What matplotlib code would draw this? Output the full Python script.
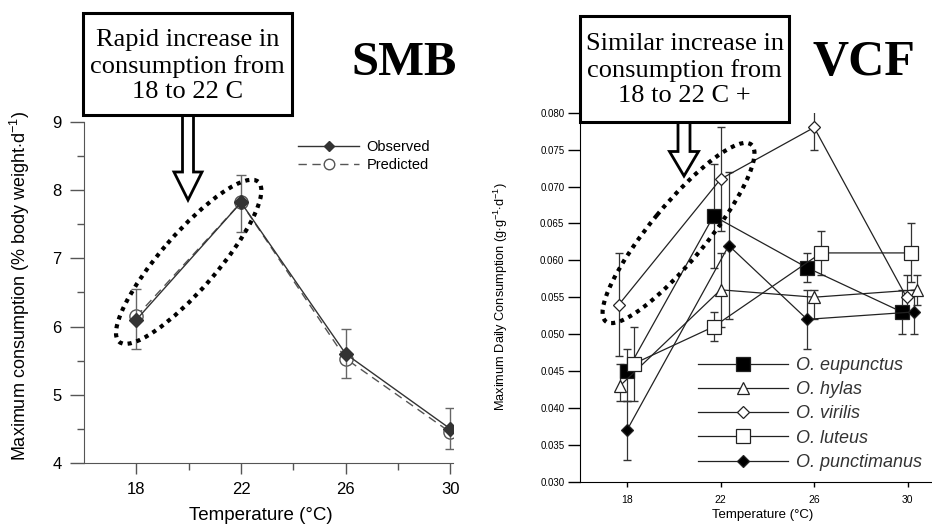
#Consumption vs temperature: smallmouth bass (SMB) and crayfish (VCF)
#two panels with call-out boxes, block arrows and dotted ellipses

import matplotlib.pyplot as plt
import numpy as np
from matplotlib.patches import Ellipse, Rectangle, FancyArrow

plt.rcParams['font.family'] = ['Liberation Sans', 'DejaVu Sans']
plt.rcParams['mathtext.fontset'] = 'custom'
plt.rcParams['mathtext.rm'] = 'Liberation Sans'
plt.rcParams['mathtext.it'] = 'Liberation Sans:italic'

#SMB panel, % body weight per day
smb_temp = [18, 22, 26, 30]
smb_obs = [6.10, 7.82, 5.60, 4.50]
smb_pred = [6.15, 7.82, 5.53, 4.45]
smb_lo = [5.67, 7.39, 5.25, 4.21]
smb_hi = [6.55, 8.22, 5.97, 4.80]

#VCF panel, g g-1 d-1
vcf_temp = [18, 22, 26, 30]
species = ['O. eupunctus', 'O. hylas', 'O. virilis', 'O. luteus', 'O. punctimanus']
eup_y = [0.045, 0.066, 0.059, 0.053]
eup_lo = [0.041, 0.059, 0.057, 0.050]
eup_hi = [0.048, 0.073, 0.061, 0.056]
hyl_y = [0.043, 0.056, 0.055, 0.056]
hyl_lo = [0.041, 0.051, 0.052, 0.054]
hyl_hi = [0.046, 0.061, 0.056, 0.058]
vir_y = [0.054, 0.071, 0.078, 0.055]
vir_lo = [0.047, 0.064, 0.075, 0.053]
vir_hi = [0.061, 0.078, 0.081, 0.058]
lut_y = [0.046, 0.051, 0.061, 0.061]
lut_lo = [0.041, 0.049, 0.058, 0.057]
lut_hi = [0.051, 0.053, 0.064, 0.065]
pun_y = [0.037, 0.062, 0.052, 0.053]
pun_lo = [0.033, 0.052, 0.048, 0.050]
pun_hi = [0.041, 0.072, 0.056, 0.056]
#horizontal dodge so the error bars do not overlap
eup_off = [0.0, -0.3, -0.3, -0.25]
hyl_off = [-0.3, 0.0, 0.0, 0.4]
vir_off = [-0.35, 0.0, 0.0, -0.05]
lut_off = [0.3, -0.3, 0.3, 0.15]
pun_off = [0.0, 0.35, -0.3, 0.25]

W, H = 932, 525
fig = plt.figure(figsize=(W/100, H/100), dpi=100)

#---- left panel ----
ax1 = fig.add_axes([84/W, 1-463/H, (453-84)/W, (463-122)/H])
obs = np.array(smb_obs)
ax1.plot(smb_temp, smb_pred, ls=(0, (6, 4)), color='#555555', lw=1, marker='o', ms=9.5,
         mfc='white', mec='#555555', mew=1, zorder=2, label='Predicted')
ax1.errorbar(smb_temp, obs, yerr=[obs-np.array(smb_lo), np.array(smb_hi)-obs], fmt='none',
             ecolor='#666666', elinewidth=1, capsize=3.5, zorder=3)
ax1.plot(smb_temp, obs, '-', color='#333333', lw=1, marker='D', ms=7, zorder=4, label='Observed')
ax1.set_xlim(16, 30.1)
ax1.set_ylim(4, 9)
ax1.set_xticks([18, 22, 26, 30])
ax1.set_xticks([20, 24, 28], minor=True)
ax1.set_yticks([4, 5, 6, 7, 8, 9])
ax1.set_yticks(np.arange(4.5, 9, 1), minor=True)
for s in ['top', 'right']:
    ax1.spines[s].set_visible(False)
for s in ['left', 'bottom']:
    ax1.spines[s].set_color('#555555')
ax1.tick_params(axis='y', which='major', length=10, width=1, color='#555555', labelsize=12, pad=6)
ax1.tick_params(axis='y', which='minor', length=5, width=1, color='#555555')
ax1.tick_params(axis='x', which='major', length=8, width=1, color='#555555', labelsize=12, pad=6)
ax1.tick_params(axis='x', which='minor', length=5, width=1, color='#555555')
ax1.set_xlabel('Temperature (°C)', fontsize=13.5)
ax1.xaxis.label.set_va('center')
ax1.xaxis.set_label_coords(0.479, -0.1525)
ax1.set_ylabel(r'Maximum consumption (% body weight$\cdot$d$^{-1}$)', fontsize=13)
ax1.yaxis.label.set_va('center')
ax1.yaxis.set_label_coords(-0.1734, 0.519)
h, l = ax1.get_legend_handles_labels()
ax1.legend(h[::-1], l[::-1], loc='upper left', bbox_to_anchor=(298/W, 1-140/H), bbox_transform=fig.transFigure,
           frameon=False, fontsize=10.5, handlelength=4.2, handletextpad=0.5, labelspacing=0.3,
           borderpad=0, borderaxespad=0, markerscale=0.8)

#---- right panel ----
ax2 = fig.add_axes([580.3/W, 1-481.7/H, (W-580.3)/W, (481.7-112.7)/H])
series = [(eup_y, eup_lo, eup_hi, eup_off, dict(marker='s', ms=9.5, mfc='black')),
          (hyl_y, hyl_lo, hyl_hi, hyl_off, dict(marker='^', ms=8, mfc='white')),
          (vir_y, vir_lo, vir_hi, vir_off, dict(marker='D', ms=6, mfc='white')),
          (lut_y, lut_lo, lut_hi, lut_off, dict(marker='s', ms=9.5, mfc='white')),
          (pun_y, pun_lo, pun_hi, pun_off, dict(marker='D', ms=6.5, mfc='black'))]
for name, (y, lo, hi, off, mk) in zip(species, series):
    x = np.array(vcf_temp) + np.array(off)
    y = np.array(y)
    ax2.errorbar(x, y, yerr=[y-np.array(lo), np.array(hi)-y], fmt='none', ecolor='#333333',
                 elinewidth=0.9, capsize=2.8, zorder=2)
    ax2.plot(x, y, '-', color='#222222', lw=0.9, mec='#222222', mew=0.9, zorder=3, label=name, **mk)
ax2.set_xlim(16, 31.04)
ax2.set_ylim(0.030, 0.080)
ax2.set_xticks([18, 22, 26, 30])
ax2.set_yticks(np.arange(0.030, 0.0801, 0.005))
ax2.yaxis.set_major_formatter(plt.FormatStrFormatter('%.3f'))
for s in ['top', 'right']:
    ax2.spines[s].set_visible(False)
ax2.tick_params(axis='y', length=9, width=1, labelsize=7, pad=2.5)
ax2.tick_params(axis='x', length=3.5, width=1, labelsize=7.5, pad=6)
ax2.set_xlabel('Temperature (°C)', fontsize=9.5)
ax2.xaxis.label.set_va('center')
ax2.xaxis.set_label_coords(0.5186, -0.0915)
ax2.set_ylabel(r'Maximum Daily Consumption (g$\cdot$g$^{-1}$$\cdot$d$^{-1}$)', fontsize=9.2)
ax2.yaxis.label.set_va('center')
ax2.yaxis.set_label_coords(-0.2255, 0.502)
leg = ax2.legend(loc='upper left', bbox_to_anchor=(697.7/W, 1-357/H), bbox_transform=fig.transFigure,
                 frameon=False, prop={'style': 'italic', 'size': 13}, handlelength=5.0,
                 handletextpad=0.45, labelspacing=0.4, borderpad=0, borderaxespad=0)
for t in leg.get_texts():
    t.set_color('#333333')

#---- call-outs, drawn in pixel coordinates on a transparent overlay ----
ov = fig.add_axes([0, 0, 1, 1], zorder=10)
ov.set_xlim(0, W)
ov.set_ylim(H, 0)
ov.axis('off')
ov.patch.set_alpha(0)

def to_px(ax, x, y):
    xd, yd = ax.transData.transform((x, y))
    return xd, H - yd

serif = 'Liberation Serif'
#block arrows first so the box edge sits on top of the shaft
ov.add_patch(FancyArrow(188, 110, 0, 90, width=11, head_width=28, head_length=28,
                        length_includes_head=True, fc='white', ec='black', lw=2))
ov.add_patch(FancyArrow(684, 116, 0, 60, width=12, head_width=29, head_length=24.5,
                        length_includes_head=True, fc='white', ec='black', lw=2))
ov.add_patch(Rectangle((83, 13), 209, 102, fc='white', ec='black', lw=2.2))
ov.add_patch(Rectangle((580.3, 16), 208.4, 105.7, fc='white', ec='black', lw=2.2))
ov.text(187.5, 66, 'Rapid increase in\nconsumption from\n18 to 22 C', ha='center', va='center',
        fontsize=19, family=serif, linespacing=1.2)
ov.text(684.5, 70, 'Similar increase in\nconsumption from\n18 to 22 C +', ha='center', va='center',
        fontsize=19, family=serif, linespacing=1.2)
ov.text(404, 63, 'SMB', ha='center', va='center', fontsize=35, fontweight='bold', family=serif)
ov.text(863.5, 63, 'VCF', ha='center', va='center', fontsize=36, fontweight='bold', family=serif)

#dotted ellipses around the 18-22 C rise
ov.add_patch(Ellipse(to_px(ax1, 20, 6.95), 212, 56, angle=-49, fill=False, ec='black',
                     lw=3, ls=(0, (1, 1.2))))
ov.add_patch(Ellipse(to_px(ax2, 20.2, 0.0637), 229, 56, angle=-50.5, fill=False, ec='black',
                     lw=3, ls=(0, (1, 1.2))))

plt.savefig('out.png', dpi=100)
